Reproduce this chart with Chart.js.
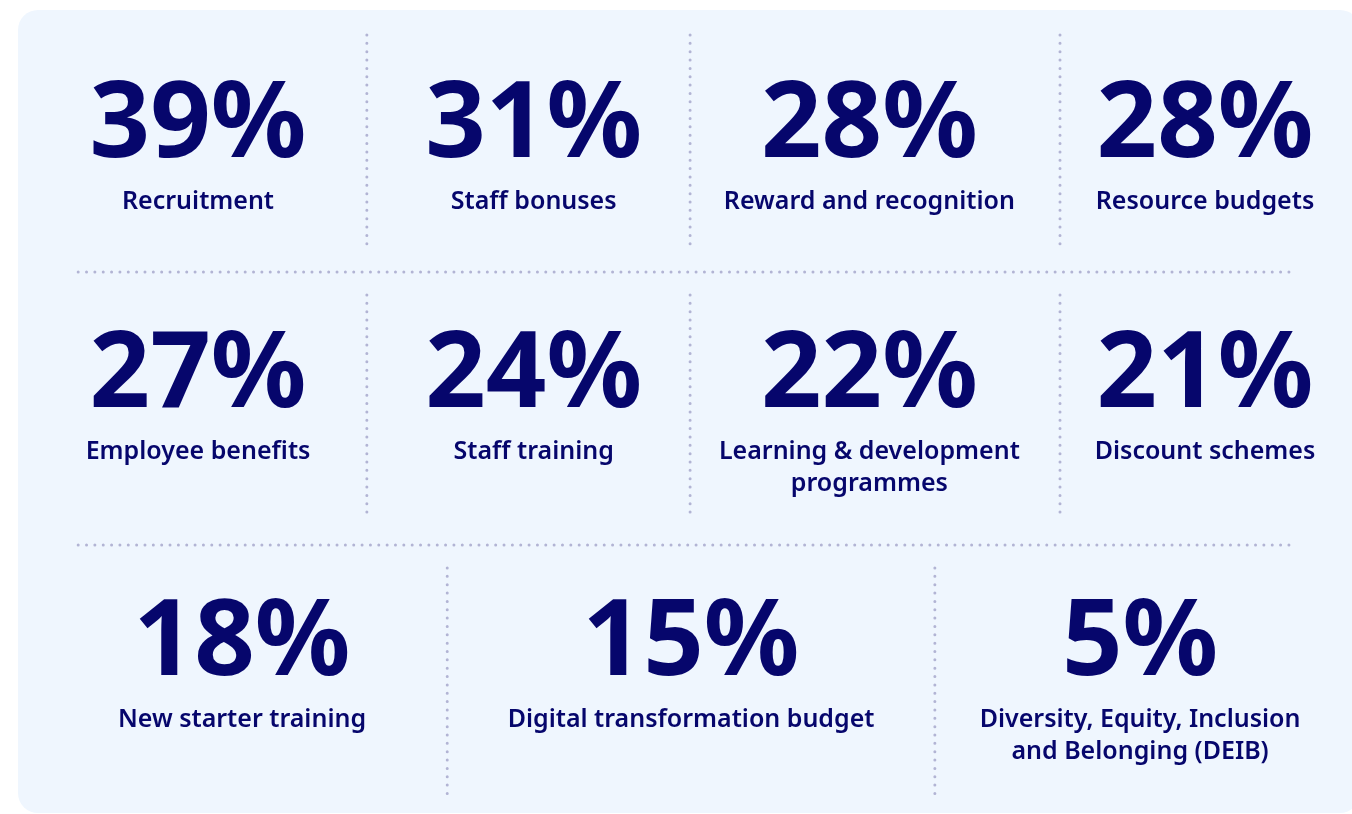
<!DOCTYPE html>
<html>
<head>
<meta charset="utf-8">
<script src="https://cdn.jsdelivr.net/npm/chart.js@4.4.1/dist/chart.umd.min.js"></script>
<style>
    body { margin: 0; background: #ffffff; }
    #wrap { position: relative; width: 1352px; height: 814px; overflow: hidden; }
    #panel { position: absolute; left: 18px; top: 10px; width: 1342px; height: 803px; background: #eff6fe; border-radius: 20px; }
    #myChart { position: absolute; left: 0; top: 0; }
</style>
</head>
<body>
<div id="wrap">
    <div id="panel"></div>
    <canvas id="myChart" width="1352" height="814"></canvas>
</div>
<script>
//data
const categories = [
    ['Recruitment'],
    ['Staff bonuses'],
    ['Reward and recognition'],
    ['Resource budgets'],
    ['Employee benefits'],
    ['Staff training'],
    ['Learning & development', 'programmes'],
    ['Discount schemes'],
    ['New starter training'],
    ['Digital transformation budget'],
    ['Diversity, Equity, Inclusion', 'and Belonging (DEIB)']
];
const values = [39, 31, 28, 28, 27, 24, 22, 21, 18, 15, 5];
const valueLabels = values.map(v => v + '%');

//grid: first 8 in 4 columns, last 3 in one row of 3
const topCount = 8;
const topCols = 4;

const navy = '#06066c';
const dotColor = '#b2b4d4';

const topPoints = values.slice(0, topCount).map((v, i) => ({ x: i % topCols, y: Math.floor(i / topCols) }));
const bottomPoints = values.slice(topCount).map((v, i) => ({ x: i, y: 2 }));

//dotted divider lines
function divider(points, xAxis, yAxis) {
    return {
        type: 'line',
        data: points,
        xAxisID: xAxis,
        yAxisID: yAxis,
        borderColor: dotColor,
        borderWidth: 3,
        borderDash: [0, 8.35],
        borderCapStyle: 'round',
        pointRadius: 0,
        fill: false
    };
}
const dividers = [
    divider([{ x: 0.503, y: -0.34 }, { x: 0.503, y: 0.512 }], 'x', 'y'),
    divider([{ x: 1.466, y: -0.34 }, { x: 1.466, y: 0.512 }], 'x', 'y'),
    divider([{ x: 2.568, y: -0.34 }, { x: 2.568, y: 0.512 }], 'x', 'y'),
    divider([{ x: 0.503, y: 0.7 }, { x: 0.503, y: 1.6 }], 'x', 'y'),
    divider([{ x: 1.466, y: 0.7 }, { x: 1.466, y: 1.6 }], 'x', 'y'),
    divider([{ x: 2.568, y: 0.7 }, { x: 2.568, y: 1.57 }], 'x', 'y'),
    divider([{ x: -0.357, y: 0.608 }, { x: 3.262, y: 0.608 }], 'x', 'y'),
    divider([{ x: -0.357, y: 1.7 }, { x: 3.262, y: 1.7 }], 'x', 'y'),
    divider([{ x: 0.457, y: 1.72 }, { x: 0.457, y: 2.628 }], 'x2', 'y2'),
    divider([{ x: 1.543, y: 1.72 }, { x: 1.543, y: 2.628 }], 'x2', 'y2')
];

//draws the big numbers and captions at each point
const statText = {
    id: 'statText',
    afterDatasetsDraw(chart) {
        const ctx = chart.ctx;
        ctx.save();
        ctx.fillStyle = navy;
        ctx.textAlign = 'center';
        ctx.textBaseline = 'alphabetic';
        [0, 1].forEach(d => {
            const meta = chart.getDatasetMeta(d);
            const offset = d === 0 ? 0 : topCount;
            meta.data.forEach((pt, i) => {
                const k = offset + i;
                ctx.font = '700 106px "Noto Sans"';
                ctx.fillText(valueLabels[k], pt.x, pt.y + 37);
                ctx.font = '600 25px "Noto Sans"';
                categories[k].forEach((line, j) => {
                    ctx.fillText(line, pt.x, pt.y + 89 + j * 32);
                });
            });
        });
        ctx.restore();
    }
};

const data = {
    datasets: [{
        label: 'stats',
        data: topPoints,
        xAxisID: 'x',
        yAxisID: 'y',
        pointRadius: 0
    }, {
        label: 'stats bottom',
        data: bottomPoints,
        xAxisID: 'x2',
        yAxisID: 'y2',
        pointRadius: 0
    }].concat(dividers)
};

const config = {
    type: 'scatter',
    data: data,
    options: {
        responsive: false,
        animation: false,
        layout: { padding: 0 },
        plugins: {
            legend: { display: false },
            tooltip: { enabled: false }
        },
        scales: {
            x: { type: 'linear', display: false, min: -0.5899, max: 3.4379 },
            y: { type: 'linear', display: false, reverse: true, min: -0.48, max: 2.776 },
            x2: { type: 'linear', display: false, min: -0.539, max: 2.472 },
            y2: { type: 'linear', display: false, reverse: true, min: -0.552, max: 2.704 }
        }
    },
    plugins: [statText]
};

const myChart = new Chart(document.getElementById('myChart'), config);
</script>
</body>
</html>
